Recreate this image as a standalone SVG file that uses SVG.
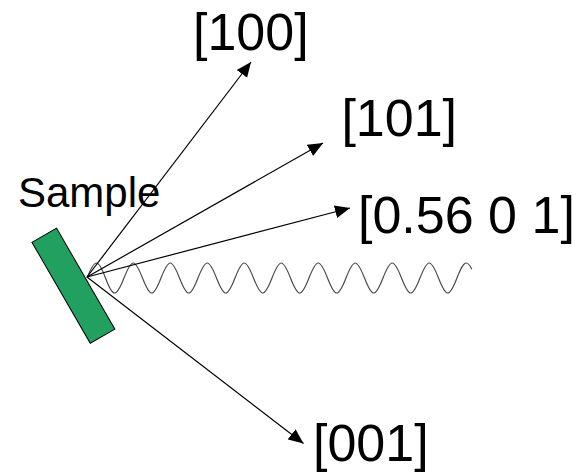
<svg xmlns="http://www.w3.org/2000/svg" width="586" height="472" viewBox="0 0 586 472">
<defs>
<style>
.lbl{font-family:"Liberation Sans",Arial,sans-serif;font-size:52px;fill:#000}
.ray{stroke:#000;stroke-width:1.2;fill:none;marker-end:url(#ah)}
</style>
<marker id="ah" markerUnits="userSpaceOnUse" markerWidth="16" markerHeight="14" refX="15" refY="7" orient="auto">
<path d="M0,0.5 L15,7 L0,13.5 z" fill="#000"/>
</marker>
</defs>
<g id="sample">
<rect x="-58.3" y="-14.2" width="116.6" height="28.4" transform="translate(73.4,285.7) rotate(60)" fill="#21a060" stroke="#000" stroke-width="1"/>
<text class="lbl" x="18" y="206.7" style="font-size:42px">Sample</text>
</g>
<g id="wave">
<path fill="none" stroke="#4a4a4a" stroke-width="1.2" d="M87,278 C94.85,258 98.15,258 105.5,278 S116.15,298 124,278 S134.65,258 142.5,278 S153.15,298 161,278 S171.65,258 179.5,278 S190.15,298 198,278 S208.65,258 216.5,278 S227.15,298 235,278 S245.65,258 253.5,278 S264.15,298 272,278 S282.65,258 290.5,278 S301.15,298 309,278 S319.65,258 327.5,278 S338.15,298 346,278 S356.65,258 364.5,278 S375.15,298 383,278 S393.65,258 401.5,278 S412.15,298 420,278 S430.65,258 438.5,278 S449.15,298 457,278 C460.09,270.12 462.92,263 466.25,263 C468.1,263 470,265.5 471.8,269.2"/>
</g>
<g id="connectors">
<line class="ray" x1="87" y1="277" x2="251" y2="62"/>
<line class="ray" x1="87" y1="277" x2="323" y2="143"/>
<line class="ray" x1="87" y1="277" x2="350" y2="208"/>
<line class="ray" x1="87" y1="277" x2="303.5" y2="443.5"/>
</g>
<g id="l100"><text class="lbl" x="193" y="50">[100]</text></g>
<g id="l101"><text class="lbl" x="341.4" y="136">[101]</text></g>
<g id="l056"><text class="lbl" x="358" y="233">[0.56 0 1]</text></g>
<g id="l001"><text class="lbl" x="313" y="461">[001]</text></g>
</svg>
